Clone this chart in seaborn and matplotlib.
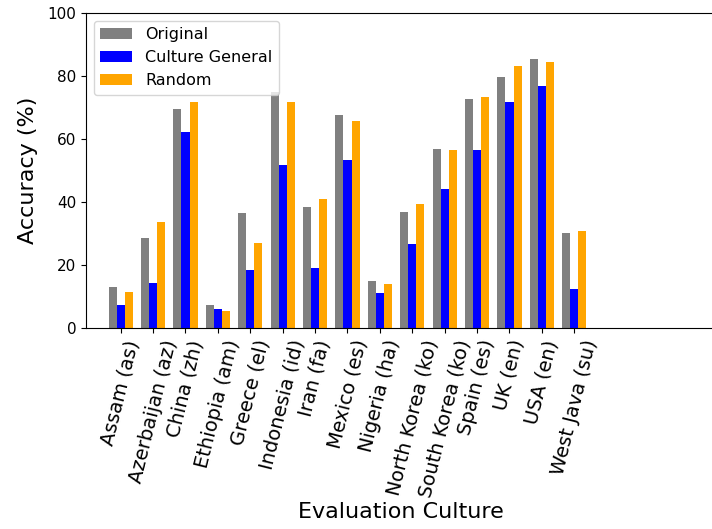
import pandas as pd
import seaborn as sns
import matplotlib
matplotlib.use("Agg")
import matplotlib.pyplot as plt

cultures = ["Assam (as)", "Azerbaijan (az)", "China (zh)", "Ethiopia (am)", "Greece (el)",
            "Indonesia (id)", "Iran (fa)", "Mexico (es)", "Nigeria (ha)", "North Korea (ko)",
            "South Korea (ko)", "Spain (es)", "UK (en)", "USA (en)", "West Java (su)"]
original = [13.0, 28.6, 69.4, 7.4, 36.4, 74.9, 38.5, 67.5, 15.0, 36.7, 56.9, 72.7, 79.6, 85.5, 30.1]
culture_general = [7.4, 14.3, 62.1, 5.9, 18.4, 51.7, 19.1, 53.2, 11.1, 26.8, 44.0, 56.5, 71.9, 76.8, 12.5]
random_ctx = [11.4, 33.8, 71.9, 5.5, 27.1, 71.6, 40.8, 65.7, 13.9, 39.3, 56.5, 73.4, 83.3, 84.5, 30.8]
settings = ["Original", "Culture General", "Random"]
colors = ["grey", "blue", "orange"]

frames = []
for name, vals in zip(settings, [original, culture_general, random_ctx]):
    frames.append(pd.DataFrame({"culture": cultures, "setting": name, "accuracy": vals}))
df = pd.concat(frames, ignore_index=True)

fig = plt.figure(figsize=(7.12, 5.29), dpi=100)
# the reference is cut off on the right, so the axes run past the figure edge
ax = fig.add_axes([86 / 712, 1 - 328 / 529, 1.005 - 86 / 712, (328 - 13) / 529])

sns.barplot(data=df, x="culture", y="accuracy", hue="setting", hue_order=settings,
            palette=colors, saturation=1, width=0.75, linewidth=0, ax=ax)

ax.set_ylim(0, 100)
ax.set_xlim(-1.07, 18.36)
ax.set_yticks([0, 20, 40, 60, 80, 100])
ax.tick_params(axis="y", labelsize=11)
ax.tick_params(axis="x", labelsize=14)
plt.setp(ax.get_xticklabels(), rotation=76, ha="center")
ax.set_ylabel("Accuracy (%)", fontsize=16, labelpad=7)
ax.set_xlabel("Evaluation Culture", fontsize=16, labelpad=2)
ax.legend(loc="upper left", fontsize=11.5)

fig.savefig("out.png", dpi=100)
